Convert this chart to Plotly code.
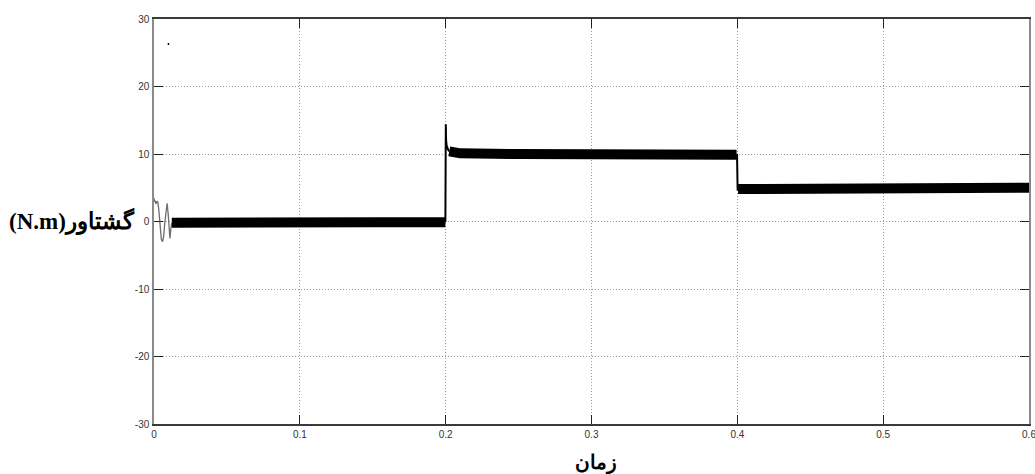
import plotly.graph_objects as go

# ---- data ----
x_ticks = [0, 0.1, 0.2, 0.3, 0.4, 0.5, 0.6]
x_tick_text = ["0", "0.1", "0.2", "0.3", "0.4", "0.5", "0.6"]
y_ticks = [-30, -20, -10, 0, 10, 20, 30]
y_tick_text = ["-30", "-20", "-10", "0", "10", "20", "30"]

# start-up transient (thin grey trace)
transient_t = [0.0, 0.0003, 0.0008, 0.0014, 0.0020, 0.0027, 0.0034, 0.0042, 0.0050, 0.0058,
               0.0066, 0.0074, 0.0082, 0.0090, 0.0097, 0.0103, 0.0109, 0.0115, 0.0122]
transient_y = [3.5, 2.9, 3.1, 2.6, 3.0, 2.8, 1.5, -1.0, -2.6, -3.0,
               -2.2, -0.2, 1.8, 2.7, 1.2, -1.0, -2.5, -1.2, -0.2]

# steady-state torque levels (thick noisy band)
band0_t = [0.0122, 0.05, 0.10, 0.15, 0.1998]
band0_y = [-0.2, -0.1, -0.1, -0.1, -0.1]
band1_t = [0.2025, 0.21, 0.25, 0.30, 0.35, 0.3995]
band1_y = [10.4, 10.1, 10.0, 9.9, 9.9, 9.9]
band2_t = [0.4005, 0.45, 0.50, 0.55, 0.60]
band2_y = [4.8, 4.9, 5.0, 5.0, 5.0]

# step transitions and spike (thin black trace)
step1_t = [0.1998, 0.2001, 0.2003, 0.2007, 0.2012, 0.2018, 0.2025]
step1_y = [-0.1, 14.4, 12.0, 11.2, 10.8, 10.6, 10.4]
step2_t = [0.3995, 0.3998, 0.4002, 0.4005]
step2_y = [9.9, 9.9, 4.6, 4.8]

# isolated glitch point near the top
glitch_t = [0.0094, 0.0104]
glitch_y = [26.3, 26.3]

fig = go.Figure()

fig.add_trace(go.Scatter(x=transient_t, y=transient_y, mode="lines",
                         line=dict(color="#6e6e6e", width=1.3), hoverinfo="skip"))
for bt, by in [(band0_t, band0_y), (band1_t, band1_y), (band2_t, band2_y)]:
    fig.add_trace(go.Scatter(x=bt, y=by, mode="lines",
                             line=dict(color="black", width=10), hoverinfo="skip"))
for st, sy in [(step1_t, step1_y), (step2_t, step2_y)]:
    fig.add_trace(go.Scatter(x=st, y=sy, mode="lines",
                             line=dict(color="black", width=2), hoverinfo="skip"))
fig.add_trace(go.Scatter(x=glitch_t, y=glitch_y, mode="lines",
                         line=dict(color="black", width=2), hoverinfo="skip"))

axis_common = dict(
    showgrid=True, gridcolor="#9a9a9a", griddash="1px,2px", gridwidth=1,
    zeroline=False, showline=True, mirror="allticks",
    ticks="inside", ticklen=9, tickcolor="#222", tickwidth=1,
    tickfont=dict(family="Liberation Sans, Arial, sans-serif", size=10, color="#333"),
    automargin=False, ticklabeloverflow="allow",
)

fig.update_xaxes(range=[0, 0.6], tickvals=x_ticks, ticktext=x_tick_text,
                 linecolor="#3a3a3a", linewidth=1.5, **axis_common)
fig.update_yaxes(range=[-30, 30], tickvals=y_ticks, ticktext=y_tick_text,
                 linecolor="#8a8a8a", linewidth=1.5, ticklabelstandoff=1, **axis_common)

title_font = dict(family="Liberation Serif, Times New Roman, DejaVu Serif, serif",
                  size=23, color="black")
fig.add_annotation(text="<b>(N.m)گشتاور</b>", xref="paper", yref="y",
                   x=-0.019, y=0, xanchor="right", yanchor="middle",
                   showarrow=False, font=title_font)
fig.add_annotation(text="<b>زمان</b>", xref="paper", yref="paper",
                   x=0.505, y=-0.097, xanchor="center", yanchor="middle",
                   showarrow=False, font=dict(family=title_font["family"], size=20, color="black"))

fig.update_layout(
    width=1035, height=474,
    margin=dict(l=154, r=6, t=19, b=50, autoexpand=False),
    paper_bgcolor="white", plot_bgcolor="white",
    showlegend=False,
)

fig.write_html("out.html")
